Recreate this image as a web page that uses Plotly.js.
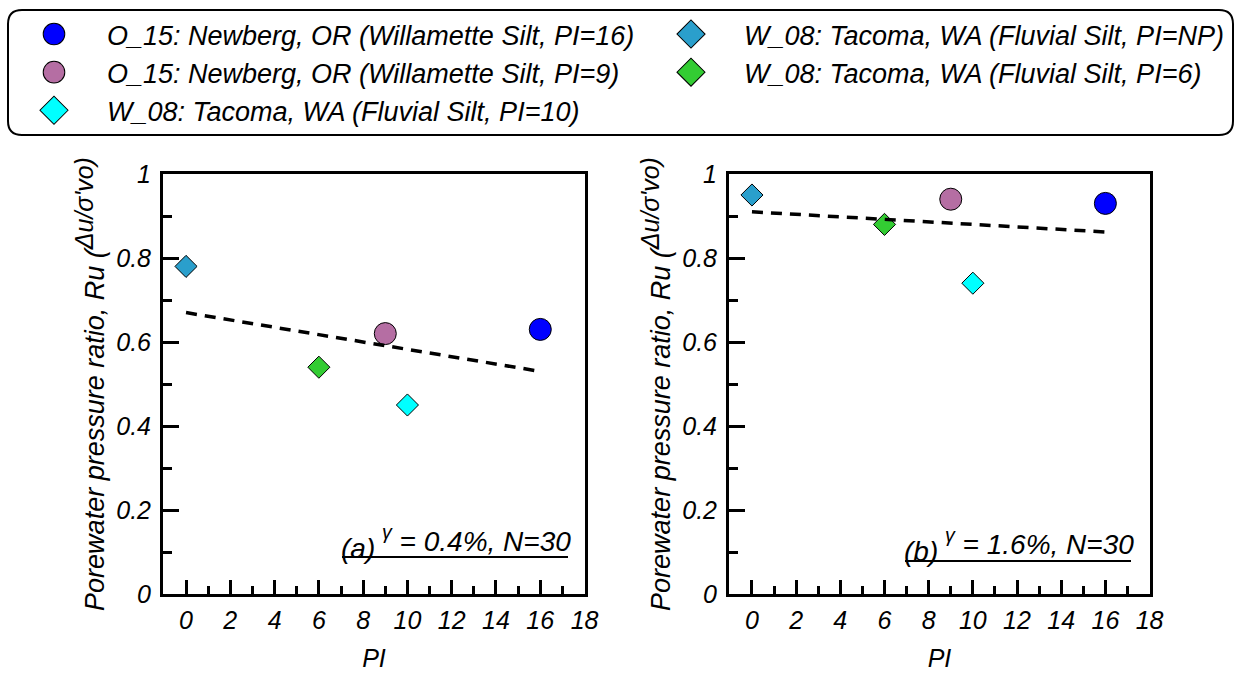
<!DOCTYPE html>
<html>
<head>
<meta charset="utf-8">
<script src="https://cdn.plot.ly/plotly-3.0.1.min.js"></script>
<style>
html,body{margin:0;padding:0;background:#fff;}
#chart{width:1236px;height:677px;}
</style>
</head>
<body>
<div id="chart"></div>
<script>
// ---- data ----
const seriesNames = [
  "O_15: Newberg, OR (Willamette Silt, PI=16)",
  "O_15: Newberg, OR (Willamette Silt, PI=9)",
  "W_08: Tacoma, WA (Fluvial Silt, PI=10)",
  "W_08: Tacoma, WA (Fluvial Silt, PI=NP)",
  "W_08: Tacoma, WA (Fluvial Silt, PI=6)"
];
const seriesPI = [16, 9, 10, 0, 6];          // PI=NP plotted at 0
const ruPanelA = [0.63, 0.62, 0.45, 0.78, 0.54]; // gamma = 0.4%
const ruPanelB = [0.93, 0.94, 0.74, 0.95, 0.88]; // gamma = 1.6%
const trendPI = [0, 16];
const trendA = [0.67, 0.53];
const trendB = [0.91, 0.862];
const xTickVals = [0, 2, 4, 6, 8, 10, 12, 14, 16, 18];
const yTickVals = [0, 0.2, 0.4, 0.6, 0.8, 1];
const yTickText = ["0", "0.2", "0.4", "0.6", "0.8", "1"];

// ---- styles ----
const symbols = ["circle", "circle", "diamond", "diamond", "diamond"];
const colors = ["#0000FF", "#B56EA3", "#00FFFF", "#2A9FCC", "#33CC33"];
const sizes = [22, 22, 17, 17, 17];
const legendOf = ["legend", "legend", "legend", "legend2", "legend2"];

const FONT = "Liberation Sans, Arial, sans-serif";
const W = 1236, H = 677;

const traces = [];
function addPanel(vals, trend, xa, ya, showLeg) {
  for (let i = 0; i < seriesNames.length; i++) {
    traces.push({
      type: "scatter", mode: "markers",
      x: [seriesPI[i]], y: [vals[i]],
      xaxis: xa, yaxis: ya,
      name: seriesNames[i],
      showlegend: showLeg,
      legend: legendOf[i],
      legendgroup: "g" + i,
      marker: {symbol: symbols[i], color: colors[i], size: sizes[i],
               line: {color: "#000", width: 1}},
      hoverinfo: "x+y"
    });
  }
  traces.push({
    type: "scatter", mode: "lines",
    x: trendPI, y: trend, xaxis: xa, yaxis: ya,
    showlegend: false,
    line: {color: "#000", width: 3.5, dash: "11px,8px"}
  });
}
addPanel(ruPanelA, trendA, "x", "y", true);
addPanel(ruPanelB, trendB, "x2", "y2", false);

const tickFont = {family: FONT, size: 25, color: "#000", style: "italic"};
function xAxis(domain, anchor) {
  return {
    domain: domain, anchor: anchor, range: [-1.04, 18.02],
    tickvals: xTickVals, ticks: "inside", ticklen: 14, tickwidth: 3,
    tickcolor: "#000", tickfont: tickFont, ticklabelstandoff: 2,
    minor: {dtick: 1, tick0: 1, ticks: "inside", ticklen: 8, tickwidth: 3, tickcolor: "#000", showgrid: false},
    showline: true, linewidth: 3, linecolor: "#000", mirror: true,
    showgrid: false, zeroline: false,
    title: {text: "PI", font: {family: FONT, size: 25, color: "#000", style: "italic"}, standoff: 17}
  };
}
function yAxis(domain, anchor) {
  return {
    domain: domain, anchor: anchor, range: [0, 1],
    tickvals: yTickVals, ticktext: yTickText,
    ticks: "inside", ticklen: 16, tickwidth: 3,
    tickcolor: "#000", tickfont: tickFont, ticklabelstandoff: 4,
    minor: {dtick: 0.1, tick0: 0, ticks: "inside", ticklen: 9, tickwidth: 3, tickcolor: "#000", showgrid: false},
    showline: true, linewidth: 3, linecolor: "#000", mirror: true,
    showgrid: false, zeroline: false,
    title: {text: "Porewater pressure ratio, Ru (<sup><span style='font-size:25px'>Δu/σ'vo)</span></sup>",
            font: {family: FONT, size: 27, color: "#000", style: "italic"}, standoff: 4}
  };
}

const yDom = [1 - 594 / H, 1 - 174 / H];
const xDomA = [163 / W, 585 / W];
const xDomB = [729 / W, 1150 / W];

// rounded legend frame (paper coords)
function roundRect(l, t, r, b, rad) {
  const X = p => p / W, Y = p => 1 - p / H;
  const rx = rad / W, ry = rad / H;
  return `M ${X(l) + rx},${Y(t)} L ${X(r) - rx},${Y(t)} Q ${X(r)},${Y(t)} ${X(r)},${Y(t) - ry} ` +
         `L ${X(r)},${Y(b) + ry} Q ${X(r)},${Y(b)} ${X(r) - rx},${Y(b)} ` +
         `L ${X(l) + rx},${Y(b)} Q ${X(l)},${Y(b)} ${X(l)},${Y(b) + ry} ` +
         `L ${X(l)},${Y(t) - ry} Q ${X(l)},${Y(t)} ${X(l) + rx},${Y(t)} Z`;
}

const legFont = {family: FONT, size: 27, color: "#000", style: "italic"};
function legendBox(xpx) {
  return {
    orientation: "v", x: xpx / W, y: 1 - 10 / H, xanchor: "left", yanchor: "top",
    font: legFont, itemwidth: 96, tracegroupgap: 0,
    bgcolor: "rgba(0,0,0,0)", borderwidth: 0, traceorder: "grouped"
  };
}

const annFont = {family: FONT, size: 28, color: "#000", style: "italic"};
const layout = {
  width: W, height: H,
  margin: {l: 0, r: 0, t: 0, b: 0},
  paper_bgcolor: "#fff", plot_bgcolor: "#fff",
  font: {family: FONT, color: "#000"},
  xaxis: xAxis(xDomA, "y"),
  yaxis: yAxis(yDom, "x"),
  xaxis2: xAxis(xDomB, "y2"),
  yaxis2: yAxis(yDom, "x2"),
  showlegend: true,
  legend: legendBox(1),
  legend2: legendBox(638),
  shapes: [
    {type: "path", xref: "paper", yref: "paper", path: roundRect(8, 10, 1233, 135, 14),
     line: {color: "#000", width: 2}, fillcolor: "rgba(0,0,0,0)", layer: "below"},
    {type: "line", xref: "paper", yref: "paper", x0: 342 / W, x1: 568 / W, y0: 1 - 557 / H, y1: 1 - 557 / H,
     line: {color: "#000", width: 2}},
    {type: "line", xref: "paper", yref: "paper", x0: 905 / W, x1: 1131 / W, y0: 1 - 561 / H, y1: 1 - 561 / H,
     line: {color: "#000", width: 2}}
  ],
  annotations: [
    {xref: "paper", yref: "paper", x: 339 / W, y: 1 - 548 / H, xanchor: "left", yanchor: "middle",
     text: "(a)", showarrow: false, font: annFont},
    {xref: "paper", yref: "paper", x: 380 / W, y: 1 - 539 / H, xanchor: "left", yanchor: "middle",
     text: "<sup>γ</sup> = 0.4%, N=30", showarrow: false, font: annFont},
    {xref: "paper", yref: "paper", x: 902 / W, y: 1 - 551 / H, xanchor: "left", yanchor: "middle",
     text: "(b)", showarrow: false, font: annFont},
    {xref: "paper", yref: "paper", x: 943 / W, y: 1 - 542 / H, xanchor: "left", yanchor: "middle",
     text: "<sup>γ</sup> = 1.6%, N=30", showarrow: false, font: annFont}
  ]
};

Plotly.newPlot("chart", traces, layout, {staticPlot: true, displayModeBar: false}).then(gd => {
  // enlarge legend symbols (Plotly caps them at 16px) to match the plotted marker size
  gd.querySelectorAll(".legendpoints path.scatterpts").forEach(p => {
    const t = p.getAttribute("transform") || "";
    p.setAttribute("transform", t + " scale(1.35)");
    p.style.strokeWidth = "0.75px";
  });
});
</script>
</body>
</html>
